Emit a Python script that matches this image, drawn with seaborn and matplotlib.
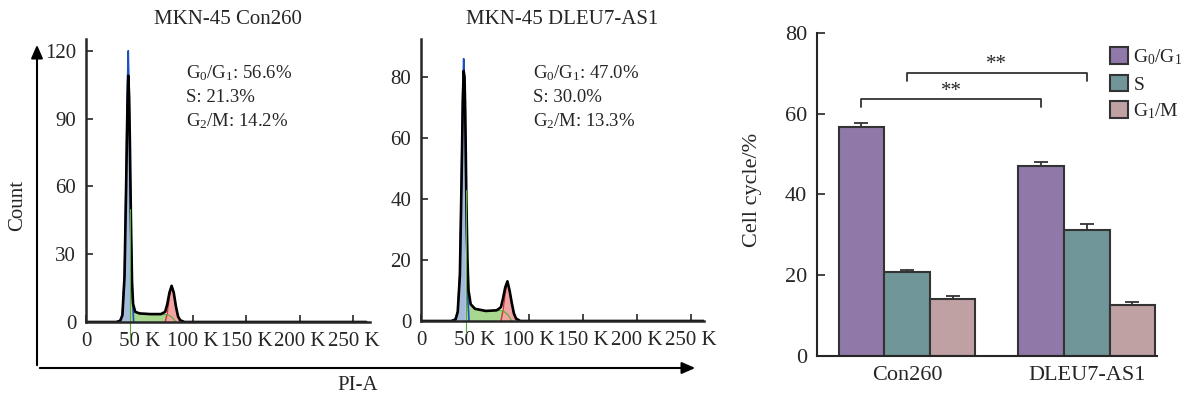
import matplotlib
matplotlib.use("Agg")
import matplotlib.pyplot as plt
import pandas as pd
import seaborn as sns

sns.set_theme(style="ticks")
plt.rcParams["font.family"] = ["Liberation Serif", "DejaVu Serif"]
plt.rcParams["mathtext.fontset"] = "custom"
plt.rcParams["mathtext.rm"] = "Liberation Serif"
plt.rcParams["mathtext.it"] = "Liberation Serif:italic"

W, H = 1186, 400

# --- flow histograms (PI-A in K, count) ---
hist_titles = ["MKN-45 Con260", "MKN-45 DLEU7-AS1"]
hist_notes = [["G$_0$/G$_1$: 56.6%", "S: 21.3%", "G$_2$/M: 14.2%"],
              ["G$_0$/G$_1$: 47.0%", "S: 30.0%", "G$_2$/M: 13.3%"]]
x_ticks = [0, 50, 100, 150, 200, 250]
x_ticklabels = ["0", "50 K", "100 K", "150 K", "200 K", "250 K"]
y_ticks = [[0, 30, 60, 90, 120], [0, 20, 40, 60, 80]]
y_max = [125, 92.5]

env_k = [0, 28, 32, 34, 36, 37.5, 38.7, 39.5, 40.3, 41, 42, 43, 44, 46, 50, 60,
         70, 74, 76, 78, 80, 82, 84, 86, 88, 92, 262]
env1_c = [0, 0, 0.5, 3, 20, 60, 95, 109, 100, 80, 45, 18, 8, 4.5, 3.8, 3.5,
          3.5, 4.5, 8, 13, 16, 13, 7, 2.5, 0.8, 0, 0]
env2_c = [0, 0, 0.5, 3, 15, 45, 72, 82, 80, 68, 40, 20, 10, 5.5, 4, 3.3,
          3.5, 4.5, 7.5, 11, 13, 10, 6, 2.5, 0.8, 0, 0]

blue_k = [31, 34, 36, 37.5, 38.7, 39.5, 40.3, 41, 42, 43, 44.5]
blue1_c = [0, 3, 22, 65, 105, 120, 100, 78, 42, 15, 0]
blue2_c = [0, 3, 16, 48, 76, 86, 78, 62, 32, 10, 0]

green1_k = [41, 41.5, 42, 43, 44, 46, 50, 60, 70, 74, 76, 78, 80, 82, 84]
green1_c = [50, 48, 40, 18, 8, 4.5, 3.6, 3.2, 3.2, 3.3, 3.2, 2.8, 2.2, 1.2, 0]
green2_k = [41.7, 42, 43, 44, 46, 50, 60, 70, 74, 76, 78, 80, 82, 84]
green2_c = [43, 40, 20, 10, 5.5, 4, 3.3, 3.4, 3.5, 3.3, 2.8, 2.2, 1.2, 0]

red_k = [74, 76, 78, 80, 82, 84, 86, 88, 90]
red1_c = [0, 4, 11, 16, 13, 7, 2.5, 0.8, 0]
red2_c = [0, 3.5, 9, 13, 10, 6, 2.5, 0.8, 0]

gate_k = [41, 41.7]
gate_bottom = [-8, -4]

# --- bar chart ---
groups = ["Con260", "DLEU7-AS1"]
phases = ["G$_0$/G$_1$", "S", "G$_1$/M"]
g0g1_mean = [56.6, 47.0]
s_mean = [20.7, 31.2]
g1m_mean = [14.1, 12.7]
g0g1_err = [1.0, 1.0]
s_err = [0.5, 1.5]
g1m_err = [0.7, 0.7]
bar_colors = ["#9070B0", "#6A9CA0", "#C49CA0"]


def fx(px):
    return px / W


def fy(py):
    return 1 - py / H


fig = plt.figure(figsize=(W / 100, H / 100), dpi=100)

hist_boxes = [(86, 322, 1.07, 2.26), (421, 321, 1.08, 3.05)]
envs = [env1_c, env2_c]
blues = [blue1_c, blue2_c]
greens = [(green1_k, green1_c), (green2_k, green2_c)]
reds = [red1_c, red2_c]
note_x = [186, 533]

for i in range(2):
    left, base, sx, sy = hist_boxes[i]
    xr, yr = 265 if i == 0 else 262, y_max[i]
    ax = fig.add_axes([fx(left), fy(base), xr * sx / W, yr * sy / H])
    bk = [k for k in blue_k if k <= 41.5]
    ax.fill_between(bk, blues[i][:len(bk)], color="#A3BADB", lw=0)
    gk, gc = greens[i]
    ax.fill_between(gk, gc, color="#A8D890", lw=0)
    ax.fill_between(red_k, reds[i], color="#F2A3A3", lw=0)
    ax.plot(red_k, reds[i], color="#D03030", lw=1)
    ax.plot(gk, gc, color="#55AA35", lw=0.8)
    ax.plot(blue_k, blues[i], color="#1F4FC0", lw=1.2)
    sns.lineplot(x=env_k, y=envs[i], ax=ax, color="black", lw=1.9,
                 sort=False, estimator=None)
    ax.plot([gate_k[i]] * 2, [gate_bottom[i], gc[0]], color="#55AA35",
            lw=0.8, clip_on=False)
    ax.set_xlim(0, xr)
    ax.set_ylim(0, yr)
    ax.set_xticks(x_ticks, x_ticklabels)
    ax.set_yticks(y_ticks[i])
    sns.despine(ax=ax)
    for s in ["left", "bottom"]:
        ax.spines[s].set_linewidth(1.8)
    ax.tick_params(direction="in", length=5, width=1.2, labelsize=15, pad=7)
    ax.set_xlabel("")
    ax.set_ylabel("")
    fig.text(fx(left + xr * sx / 2), fy(20), hist_titles[i],
             ha="center", va="center", fontsize=15)
    for j, note in enumerate(hist_notes[i]):
        fig.text(fx(note_x[i]), fy(73 + 24 * j), note,
                 ha="left", va="center", fontsize=13.5)

# shared axes arrows
fig.add_artist(matplotlib.patches.FancyArrowPatch(
    (fx(37), fy(368)), (fx(698), fy(368)), transform=fig.transFigure,
    arrowstyle="-|>,head_length=8,head_width=3.5", lw=1.5, color="black"))
fig.add_artist(matplotlib.patches.FancyArrowPatch(
    (fx(37), fy(368)), (fx(37), fy(42)), transform=fig.transFigure,
    arrowstyle="-|>,head_length=8,head_width=3.5", lw=1.5, color="black"))
fig.text(fx(18), fy(205), "Count", rotation=90, ha="center", va="center",
         fontsize=15)
fig.text(fx(358), fy(385), "PI-A", ha="center", va="center", fontsize=15)

# bar panel
means = [g0g1_mean, s_mean, g1m_mean]
errs = [g0g1_err, s_err, g1m_err]
df = pd.DataFrame({
    "group": groups * 3,
    "phase": [p for p in phases for _ in groups],
    "value": [v for m in means for v in m],
})
ax3 = fig.add_axes([fx(817), fy(356), 340 / W, 323 / H])
sns.barplot(data=df, x="group", y="value", hue="phase", hue_order=phases,
            palette=bar_colors, width=0.76, edgecolor="#333333", linewidth=1.5,
            errorbar=None, ax=ax3)
centers = []
for cont, e in zip(ax3.containers, errs):
    cx = []
    for bar, ee in zip(cont, e):
        x = bar.get_x() + bar.get_width() / 2
        cx.append(x)
        ax3.errorbar(x, bar.get_height(), yerr=[[0], [ee]], fmt="none",
                     ecolor="#333333", elinewidth=1.3, capsize=5, capthick=1.3)
    centers.append(cx)

for k, (top, star_y) in enumerate([(63.7, 65.6), (70.1, 72.1)]):
    xa, xb = centers[k]
    ax3.plot([xa, xa, xb, xb], [top - 2, top, top, top - 2], color="#333333",
             lw=1.3)
    ax3.text((xa + xb) / 2, star_y, "**", ha="center", va="center",
             fontsize=15)

ax3.set_xlim(-0.5, 1.39)
ax3.set_ylim(0, 80)
ax3.set_yticks([0, 20, 40, 60, 80])
ax3.set_xlabel("")
ax3.set_ylabel("")
sns.despine(ax=ax3)
for s in ["left", "bottom"]:
    ax3.spines[s].set_linewidth(1.5)
ax3.tick_params(axis="y", direction="in", length=6, width=1.2, labelsize=16,
                pad=7)
ax3.tick_params(axis="x", length=0, labelsize=16, pad=7)
fig.text(fx(752), fy(190), "Cell cycle/%", rotation=90, ha="center",
         va="center", fontsize=16)
ax3.legend(loc="upper left", bbox_to_anchor=(fx(1110), fy(47)),
           bbox_transform=fig.transFigure, frameon=False, fontsize=14,
           handlelength=0.9, handleheight=0.95, handletextpad=0.3,
           labelspacing=0.4, borderpad=0, borderaxespad=0)

fig.savefig("out.png", dpi=100)
